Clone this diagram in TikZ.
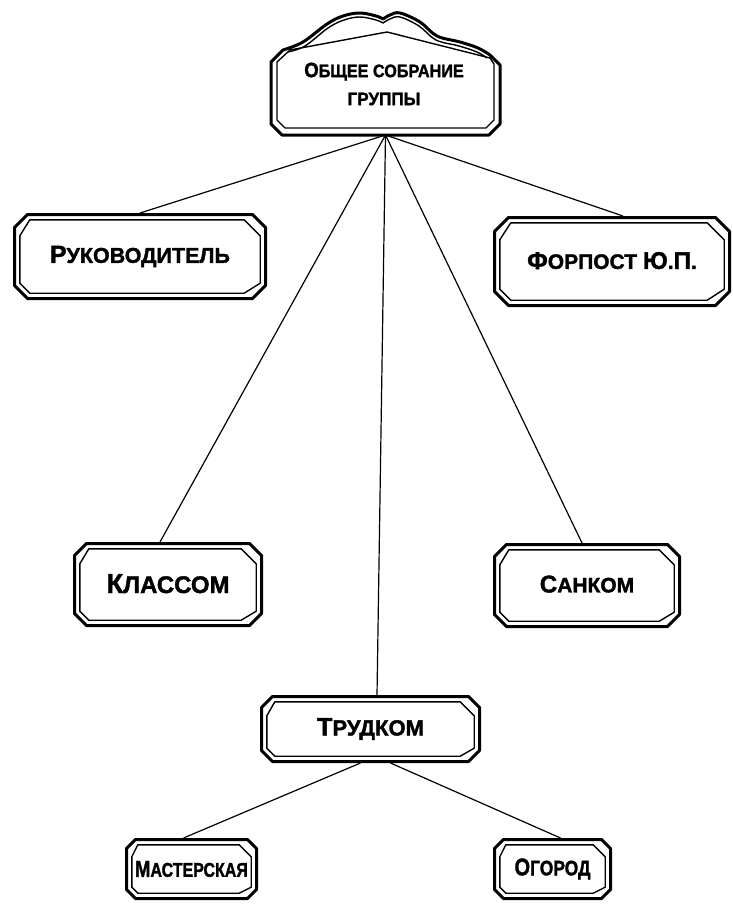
\documentclass[tikz,border=0pt]{standalone}
\usepackage{fontspec}
\setmainfont{Liberation Sans}[BoldFeatures={FakeBold=1.6}]
\usepackage{graphicx}
\usetikzlibrary{calc}

% enlarged initial letter of a small-caps word
\newcommand\Ini[1]{\scalebox{1.15}{#1}}
% octagonal frame drawn round a node: #1 node, #2 inset, #3 chamfer, #4 style
\newcommand\octo[4]{%
  \draw[#4] ([shift={(#2+#3,-#2)}]#1.north west) -- ([shift={(-#2-#3,-#2)}]#1.north east)
    -- ([shift={(-#2,-#2-#3)}]#1.north east) -- ([shift={(-#2,#2+#3)}]#1.south east)
    -- ([shift={(-#2-#3,#2)}]#1.south east) -- ([shift={(#2+#3,#2)}]#1.south west)
    -- ([shift={(#2,#2+#3)}]#1.south west) -- ([shift={(#2,-#2-#3)}]#1.north west) -- cycle;}

\tikzset{
  frame/.style={rectangle, inner sep=0pt, outer sep=0pt},
  rim/.style={line width=3pt, line join=round},
  inrim/.style={line width=1.4pt, line join=round},
  link/.style={line width=1.2pt},
}

\begin{document}
\begin{tikzpicture}[x=1pt,y=1pt]
\useasboundingbox (0,0) rectangle (733,-907);

% ---- boxes ----
\node[frame, minimum width=229pt, minimum height=85pt] (top) at (385.5,-92.5) {};
\node[frame, align=center, font=\bfseries\fontsize{18}{28}\selectfont] (topText) at (384,-84)
  {\scalebox{.9}[1]{\Ini{О}\MakeUppercase{бщее собрание}}\\\scalebox{.95}[1]{\MakeUppercase{группы}}};

\node[frame, minimum width=254pt, minimum height=87pt, font=\bfseries\fontsize{21.5}{24}\selectfont]
  (ruk) at (140,-256.5) {\raisebox{2pt}{\Ini{Р}\MakeUppercase{уководитель}}};
\node[frame, minimum width=238pt, minimum height=91pt, font=\bfseries\fontsize{21}{24}\selectfont]
  (forp) at (612,-261.5) {\raisebox{2pt}{\Ini{Ф}\MakeUppercase{орпост} \Ini{Ю}.\Ini{П}.}};
\node[frame, minimum width=190pt, minimum height=85pt, font=\bfseries\fontsize{24}{26}\selectfont]
  (klas) at (168,-584.5) {\raisebox{2pt}{\Ini{К}\MakeUppercase{лассом}}};
\node[frame, minimum width=188pt, minimum height=85pt, font=\bfseries\fontsize{21}{24}\selectfont]
  (sank) at (587,-585.5) {\raisebox{3pt}{\Ini{С}\MakeUppercase{анком}}};
\node[frame, minimum width=221pt, minimum height=68pt, font=\bfseries\fontsize{22}{24}\selectfont]
  (trud) at (370.5,-729) {\raisebox{2pt}{\Ini{Т}\MakeUppercase{рудком}}};
\node[frame, minimum width=133pt, minimum height=62pt, font=\bfseries\fontsize{20}{22}\selectfont]
  (mast) at (191.5,-869) {\scalebox{.8}[1]{\Ini{М}\MakeUppercase{астерская}}};
\node[frame, minimum width=119pt, minimum height=62pt, font=\bfseries\fontsize{21}{22}\selectfont]
  (ogor) at (552.5,-869) {\scalebox{.83}[1]{\Ini{О}\MakeUppercase{город}}};

% ---- frames ----
% crowned frame of the general meeting
\draw[rim] (271,-124) -- (271,-62) -- (283,-50)
  -- plot[smooth, tension=.6] coordinates {(283,-50) (303,-42) (327,-24) (343,-16) (360,-13) (376,-16) (383,-19)}
  -- plot[smooth, tension=.6] coordinates {(383,-19) (390,-15) (400,-13) (420,-22) (437,-36) (460,-42) (478,-48) (490,-55)}
  -- (500,-65) -- (500,-124) -- (489,-135) -- (282,-135) -- cycle;
\draw[inrim] plot[smooth, tension=.6] coordinates {(288,-52) (305,-46) (328,-28) (344,-20) (360,-17) (376,-20) (383,-23)}
  -- plot[smooth, tension=.6] coordinates {(383,-23) (390,-19) (400,-17) (419,-26) (436,-40) (459,-46) (477,-52) (487,-58)};
\draw[inrim] (277,-120) -- (277,-62) -- (290,-50) -- (387,-32) -- (490,-58) -- (494,-64)
  -- (494,-120) -- (486,-128) -- (285,-128) -- cycle;

\foreach \n/\c in {ruk/13, forp/14, klas/12, sank/12, trud/11, mast/9, ogor/9}{
  \octo{\n}{1.5}{\c}{rim}
  \octo{\n}{6.8}{\c-3}{inrim}
}

% ---- connectors ----
\draw[link] (top.south) -- (ruk.north);
\draw[link] (top.south) -- ($(forp.north)+(11,0)$);
\draw[link] (top.south) -- ($(klas.north)+(-8,0)$);
\draw[link] (top.south) -- ($(sank.north)+(-5,0)$);
\draw[link] (top.south) -- ($(trud.north)+(6.5,0)$);
\draw[link] ($(trud.south)+(-10,0)$) -- ($(mast.north)+(-8,0)$);
\draw[link] ($(trud.south)+(20,0)$) -- ($(ogor.north)+(8,0)$);
\end{tikzpicture}
\end{document}
